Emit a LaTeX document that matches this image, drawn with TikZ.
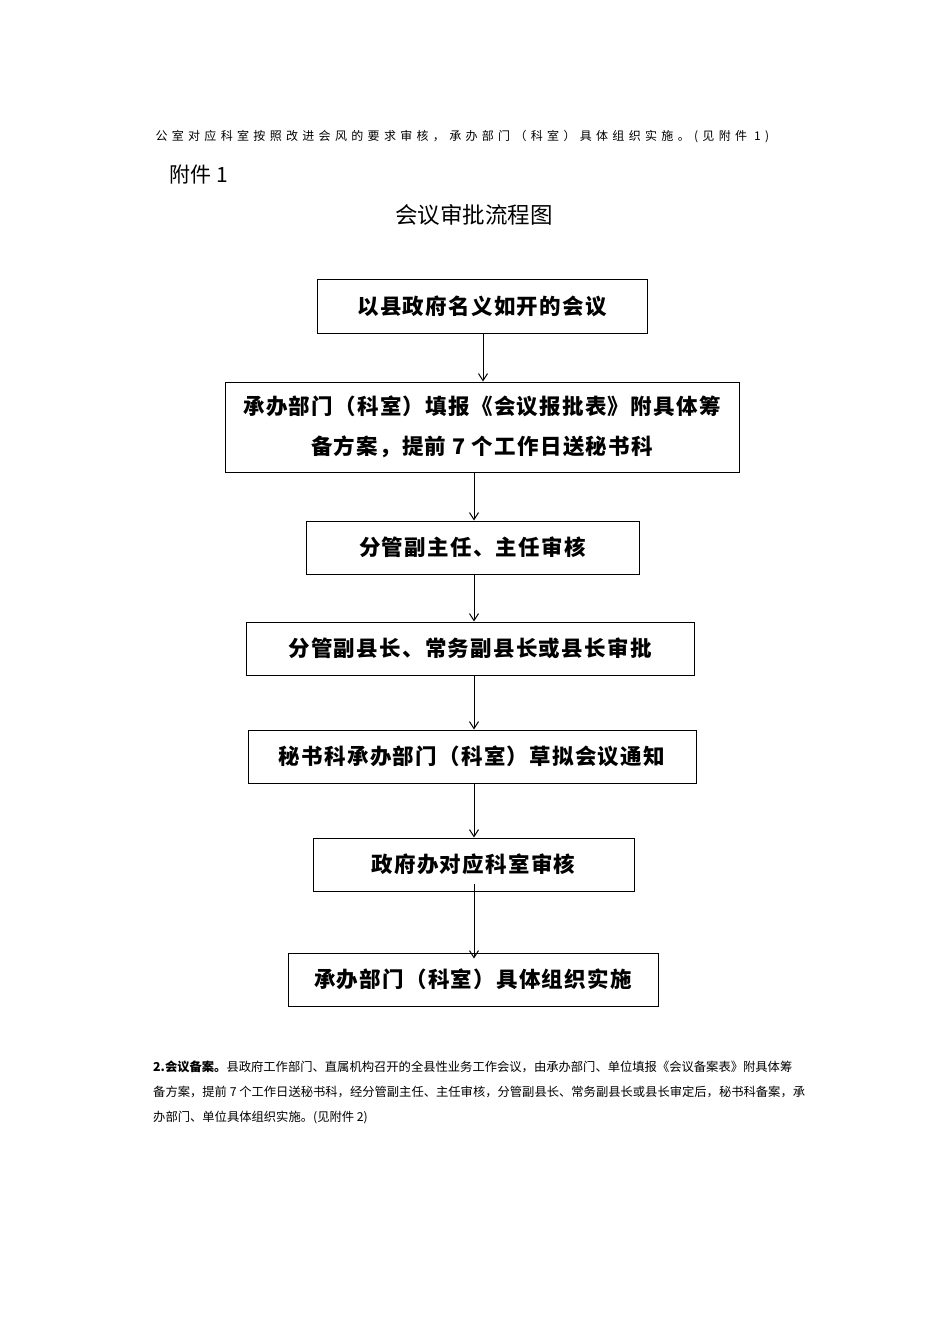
\documentclass[tikz,border=0pt]{standalone}
\usepackage{fontspec}
\usetikzlibrary{arrows.meta}
\setmainfont{Noto Sans CJK SC}
\newfontfamily\spaced{Noto Sans CJK SC}[LetterSpace=36]
\newfontfamily\boxfont{Noto Sans CJK SC}[LetterSpace=6]
\begin{document}
\begin{tikzpicture}[x=1pt,y=-1pt,
  box/.style={draw,line width=1pt,font=\boxfont\fontsize{21.5}{40}\selectfont\bfseries,align=center,inner sep=0pt},
  arr/.style={-{Straight Barb[length=7pt,width=9pt]},line width=1pt}]
\useasboundingbox[fill=white] (0,0) rectangle (950,1344);
\node[anchor=west,font=\spaced\fontsize{12}{14}\selectfont] (top) at (152,137) {公室对应科室按照改进会风的要求审核，承办部门（科室）具体组织实施。(见附件 1)};
\node[anchor=west,font=\fontsize{21}{24}\selectfont] (fj) at (166,175) {附件 1};
\node[font=\fontsize{22.5}{26}\selectfont] (title) at (474,215) {会议审批流程图};
\node[box,minimum width=330,minimum height=54] (b1) at (482,306) {以县政府名义如开的会议};
\node[box,minimum width=514,minimum height=90] (b2) at (482,427) {承办部门（科室）填报《会议报批表》附具体筹\\备方案，提前 7 个工作日送秘书科};
\node[box,minimum width=333,minimum height=53] (b3) at (472.5,547.5) {分管副主任、主任审核};
\node[box,minimum width=448,minimum height=53] (b4) at (470,648.5) {分管副县长、常务副县长或县长审批};
\node[box,minimum width=448,minimum height=53] (b5) at (472,756.5) {秘书科承办部门（科室）草拟会议通知};
\node[box,minimum width=321,minimum height=53] (b6) at (473.5,864.5) {政府办对应科室审核};
\node[box,minimum width=370,minimum height=53] (b7) at (473,979.5) {承办部门（科室）具体组织实施};
\draw[arr] (b1.south -| 483,0) -- (b2.north -| 483,0);
\draw[arr] (b2.south -| 474,0) -- (b3.north -| 474,0);
\draw[arr] (b3.south -| 474,0) -- (b4.north -| 474,0);
\draw[arr] (b4.south -| 474,0) -- (b5.north -| 474,0);
\draw[arr] (b5.south -| 474,0) -- (b6.north -| 474,0);
\draw[arr] ([yshift=8]b6.south -| 474,0) -- ([yshift=-6]b7.north -| 474,0);
\begin{scope}[every node/.style={anchor=west,font=\fontsize{12.3}{14}\selectfont,inner sep=0pt}]
\node (p1) at (153,1067) {\textbf{2.会议备案。}县政府工作部门、直属机构召开的全县性业务工作会议，由承办部门、单位填报《会议备案表》附具体筹};
\node (p2) at (153,1092) {备方案，提前 7 个工作日送秘书科，经分管副主任、主任审核，分管副县长、常务副县长或县长审定后，秘书科备案，承};
\node (p3) at (153,1117) {办部门、单位具体组织实施。(见附件 2)};
\end{scope}
\end{tikzpicture}
\end{document}
